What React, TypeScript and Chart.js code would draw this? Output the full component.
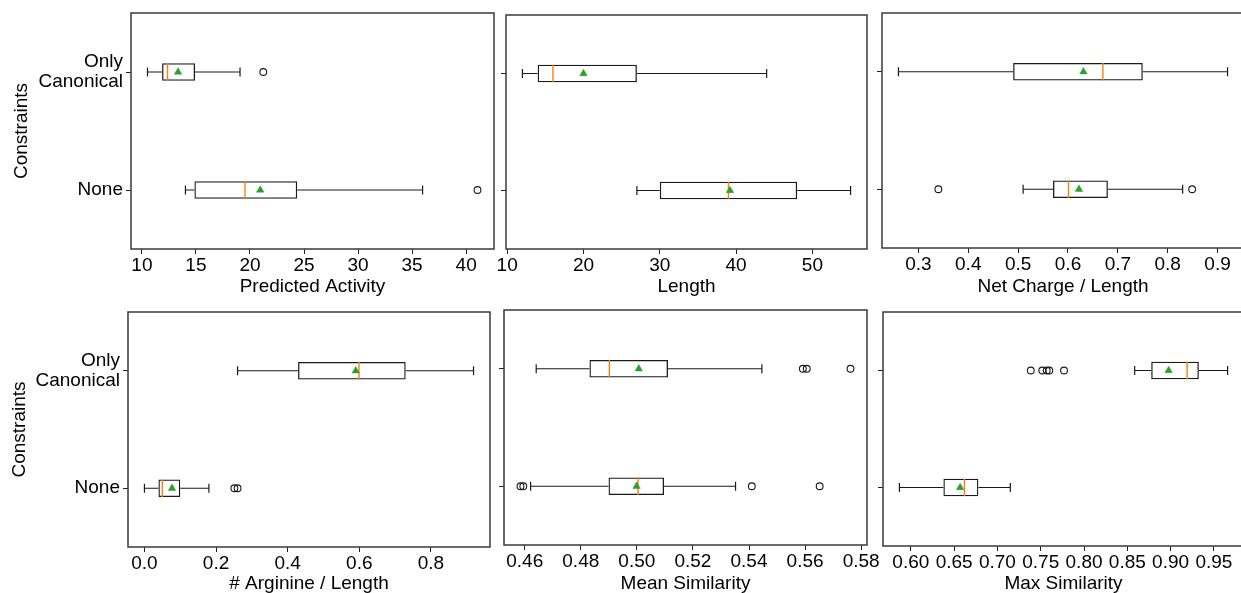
import React, { useEffect, useRef } from 'react';
import { Chart, registerables } from 'chart.js';

Chart.register(...registerables);

const FONT = "'Liberation Sans', Arial, Helvetica, sans-serif";
Chart.defaults.font.family = FONT;

const categories = ['Only Canonical', 'None'];
const categoryTickLines = [['Only', 'Canonical'], ['None']];
const yAxisTitle = 'Constraints';

// Predicted Activity
const activityLow = [10.52, 14.03];
const activityQ1 = [11.87, 14.86];
const activityMedian = [12.37, 19.54];
const activityQ3 = [14.92, 24.37];
const activityHigh = [19.08, 35.97];
const activityMean = [13.35, 20.95];
const activityOutliers = [[21.23], [41.05]];
const activityTicks = ['10', '15', '20', '25', '30', '35', '40'];

// Length
const lengthLow = [12, 27];
const lengthQ1 = [14, 30];
const lengthMedian = [16, 39];
const lengthQ3 = [27, 48];
const lengthHigh = [44, 55];
const lengthMean = [20, 39.2];
const lengthOutliers: number[][] = [[], []];
const lengthTicks = ['10', '20', '30', '40', '50'];

// Net Charge / Length
const chargeLow = [0.26, 0.51];
const chargeQ1 = [0.49, 0.57];
const chargeMedian = [0.67, 0.601];
const chargeQ3 = [0.75, 0.68];
const chargeHigh = [0.92, 0.83];
const chargeMean = [0.631, 0.622];
const chargeOutliers = [[], [0.34, 0.849]];
const chargeTicks = ['0.3', '0.4', '0.5', '0.6', '0.7', '0.8', '0.9'];

// # Arginine / Length
const arginineLow = [0.26, 0.0];
const arginineQ1 = [0.429, 0.039];
const arginineMedian = [0.599, 0.05];
const arginineQ3 = [0.7295, 0.1];
const arginineHigh = [0.919, 0.18];
const arginineMean = [0.59, 0.077];
const arginineOutliers = [[], [0.251, 0.26]];
const arginineTicks = ['0.0', '0.2', '0.4', '0.6', '0.8'];

// Mean Similarity
const meanSimLow = [0.4641, 0.4621];
const meanSimQ1 = [0.4831, 0.4899];
const meanSimMedian = [0.4902, 0.5004];
const meanSimQ3 = [0.5111, 0.5097];
const meanSimHigh = [0.5446, 0.5352];
const meanSimMean = [0.5007, 0.4999];
const meanSimOutliers = [[0.5592, 0.5606, 0.5762], [0.4585, 0.4595, 0.541, 0.5652]];
const meanSimTicks = ['0.46', '0.48', '0.50', '0.52', '0.54', '0.56', '0.58'];

// Max Similarity
const maxSimLow = [0.8585, 0.5868];
const maxSimQ1 = [0.8776, 0.6376];
const maxSimMedian = [0.9191, 0.6619];
const maxSimQ3 = [0.9326, 0.678];
const maxSimHigh = [0.9658, 0.7149];
const maxSimMean = [0.8977, 0.6569];
const maxSimOutliers = [[0.7385, 0.7518, 0.7569, 0.7599, 0.7769], []];
const maxSimTicks = ['0.60', '0.65', '0.70', '0.75', '0.80', '0.85', '0.90', '0.95'];

type PanelCfg = {
  title: string;
  low: number[]; q1: number[]; med: number[]; q3: number[]; high: number[]; mean: number[];
  outliers: number[][];
  ticks: string[];
  area: [number, number, number, number]; // left, top, right, bottom (chart area in page px)
  yLabels: boolean;
  yW: number;
  xH: number;
};

const PAD_TOP = 20;
const PAD_RIGHT = 30;
const BOX_FRAC = 0.15;
const INK = '#1a1a1a';

const panels: PanelCfg[] = [
  { title: 'Predicted Activity', low: activityLow, q1: activityQ1, med: activityMedian, q3: activityQ3, high: activityHigh, mean: activityMean, outliers: activityOutliers, ticks: activityTicks, area: [131, 13, 494, 249], yLabels: true, yW: 121, xH: 49 },
  { title: 'Length', low: lengthLow, q1: lengthQ1, med: lengthMedian, q3: lengthQ3, high: lengthHigh, mean: lengthMean, outliers: lengthOutliers, ticks: lengthTicks, area: [506, 15, 867, 249], yLabels: false, yW: 30, xH: 49 },
  { title: 'Net Charge / Length', low: chargeLow, q1: chargeQ1, med: chargeMedian, q3: chargeQ3, high: chargeHigh, mean: chargeMean, outliers: chargeOutliers, ticks: chargeTicks, area: [882, 13, 1244, 248], yLabels: false, yW: 30, xH: 50 },
  { title: '# Arginine / Length', low: arginineLow, q1: arginineQ1, med: arginineMedian, q3: arginineQ3, high: arginineHigh, mean: arginineMean, outliers: arginineOutliers, ticks: arginineTicks, area: [128, 312, 490, 547], yLabels: true, yW: 120, xH: 48 },
  { title: 'Mean Similarity', low: meanSimLow, q1: meanSimQ1, med: meanSimMedian, q3: meanSimQ3, high: meanSimHigh, mean: meanSimMean, outliers: meanSimOutliers, ticks: meanSimTicks, area: [504, 310, 867, 545], yLabels: false, yW: 30, xH: 50 },
  { title: 'Max Similarity', low: maxSimLow, q1: maxSimQ1, med: maxSimMedian, q3: maxSimQ3, high: maxSimHigh, mean: maxSimMean, outliers: maxSimOutliers, ticks: maxSimTicks, area: [883, 312, 1244, 546], yLabels: false, yW: 30, xH: 49 },
];

function xLimits(p: PanelCfg): [number, number] {
  const vals = [...p.low, ...p.high, ...p.outliers.flat()];
  const mn = Math.min(...vals);
  const mx = Math.max(...vals);
  const m = (mx - mn) * 0.05;
  return [mn - m, mx + m];
}

function boxPx(chart: any): number {
  const y = chart.scales.y;
  return Math.abs(y.getPixelForValue(1) - y.getPixelForValue(0)) * BOX_FRAC;
}

const framePlugin = {
  id: 'frame',
  afterDraw(chart: any) {
    const { ctx, chartArea: a } = chart;
    ctx.save();
    ctx.strokeStyle = '#3a3a3a';
    ctx.lineWidth = 1.5;
    ctx.strokeRect(Math.round(a.left), Math.round(a.top), Math.round(a.right - a.left), Math.round(a.bottom - a.top));
    ctx.restore();
  },
};

function buildDatasets(p: PanelCfg): any[] {
  const ds: any[] = [];
  ds.push({
    type: 'scatter',
    data: categories.map((c, i) => ({ x: p.mean[i], y: c })),
    pointStyle: 'triangle',
    pointRadius: 4.3,
    pointBackgroundColor: '#2ca02c',
    pointBorderColor: '#2ca02c',
    pointBorderWidth: 0.5,
  });
  ds.push({
    type: 'scatter',
    data: categories.flatMap((c, i) => p.outliers[i].map((v) => ({ x: v, y: c }))),
    pointStyle: 'circle',
    pointRadius: 3.4,
    pointBackgroundColor: 'rgba(0,0,0,0)',
    pointBorderColor: INK,
    pointBorderWidth: 1.1,
  });
  ds.push({
    type: 'scatter',
    data: categories.map((c, i) => ({ x: p.med[i], y: c })),
    pointStyle: 'line',
    pointRotation: 90,
    pointRadius: (ctx: any) => boxPx(ctx.chart) / 2,
    pointBorderColor: '#ff7f0e',
    pointBorderWidth: 1.4,
  });
  ds.push({
    type: 'scatter',
    data: categories.flatMap((c, i) => [{ x: p.low[i], y: c }, { x: p.high[i], y: c }]),
    pointStyle: 'line',
    pointRotation: 90,
    pointRadius: (ctx: any) => boxPx(ctx.chart) / 4,
    pointBorderColor: INK,
    pointBorderWidth: 1.2,
  });
  categories.forEach((c, i) => {
    ds.push({
      type: 'scatter',
      showLine: true,
      data: [{ x: p.low[i], y: c }, { x: p.q1[i], y: c }],
      pointRadius: 0,
      borderColor: INK,
      borderWidth: 1.1,
    });
    ds.push({
      type: 'scatter',
      showLine: true,
      data: [{ x: p.q3[i], y: c }, { x: p.high[i], y: c }],
      pointRadius: 0,
      borderColor: INK,
      borderWidth: 1.1,
    });
  });
  ds.push({
    type: 'bar',
    data: categories.map((c, i) => [p.q1[i], p.q3[i]]),
    backgroundColor: 'rgba(0,0,0,0)',
    borderColor: INK,
    borderWidth: 1.3,
    borderSkipped: false,
    barPercentage: BOX_FRAC,
    categoryPercentage: 1,
  });
  return ds;
}

function makeConfig(p: PanelCfg): any {
  const [min, max] = xLimits(p);
  const tickVals = p.ticks.map(Number);
  const tickFont = { family: FONT, size: 19, lineHeight: 1.2 };
  return {
    type: 'bar',
    data: { labels: categories, datasets: buildDatasets(p) },
    plugins: [framePlugin],
    options: {
      responsive: false,
      animation: false,
      indexAxis: 'y',
      events: [],
      layout: { padding: { top: PAD_TOP, right: PAD_RIGHT, left: 0, bottom: 0 } },
      plugins: { legend: { display: false }, tooltip: { enabled: false }, title: { display: false } },
      scales: {
        x: {
          type: 'linear',
          min,
          max,
          bounds: 'data',
          beginAtZero: false,
          afterBuildTicks: (axis: any) => {
            axis.ticks = tickVals.map((v) => ({ value: v }));
          },
          afterFit: (axis: any) => {
            axis.height = p.xH;
            axis.paddingLeft = 0;
            axis.paddingRight = 0;
          },
          ticks: {
            autoSkip: false,
            maxRotation: 0,
            minRotation: 0,
            padding: 0,
            color: '#000',
            font: tickFont,
            callback: (_v: any, i: number) => p.ticks[i],
          },
          grid: { display: true, drawOnChartArea: false, drawTicks: true, tickLength: 5, color: '#222', lineWidth: 1 },
          border: { display: false },
          title: { display: true, text: p.title, color: '#000', font: tickFont, padding: 0 },
        },
        y: {
          type: 'category',
          labels: categories,
          offset: true,
          afterFit: (axis: any) => {
            axis.width = p.yW;
            axis.paddingTop = 0;
            axis.paddingBottom = 0;
          },
          ticks: {
            display: p.yLabels,
            padding: 3,
            color: '#000',
            font: { family: FONT, size: 19, lineHeight: 1.08 },
            callback: (_v: any, i: number) => categoryTickLines[i],
          },
          grid: { display: true, drawOnChartArea: false, drawTicks: true, tickLength: 5, offset: false, color: '#222', lineWidth: 1 },
          border: { display: false },
          title: { display: p.yLabels, text: yAxisTitle, color: '#000', font: tickFont, padding: 0 },
        },
      },
    },
  };
}

function Panel({ p }: { p: PanelCfg }) {
  const ref = useRef<HTMLCanvasElement>(null);
  const [l, t, r, b] = p.area;
  const W = p.yW + (r - l) + PAD_RIGHT;
  const H = PAD_TOP + (b - t) + p.xH;
  useEffect(() => {
    const chart = new Chart(ref.current as HTMLCanvasElement, makeConfig(p));
    return () => chart.destroy();
  }, []);
  return (
    <canvas
      ref={ref}
      width={W}
      height={H}
      style={{ position: 'absolute', left: l - p.yW, top: t - PAD_TOP, width: W, height: H }}
    />
  );
}

export default function App() {
  return (
    <div style={{ position: 'absolute', left: 0, top: 0, width: 1241, height: 593, overflow: 'hidden', background: '#fff' }}>
      {panels.map((p, i) => (
        <Panel key={i} p={p} />
      ))}
    </div>
  );
}
